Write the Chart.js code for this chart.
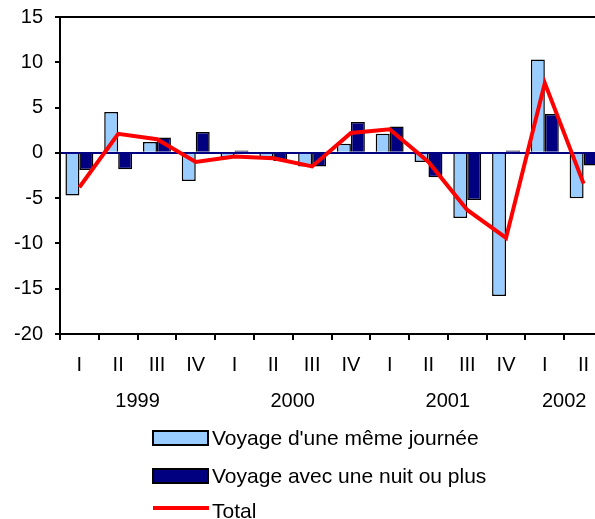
<!DOCTYPE html>
<html>
<head>
<meta charset="utf-8">
<script src="https://cdn.jsdelivr.net/npm/chart.js@4/dist/chart.umd.min.js"></script>
<style>
  html, body { margin: 0; padding: 0; background: #fff; overflow: hidden; }
  #wrap { width: 610px; height: 519px; }
</style>
</head>
<body>
<div id="wrap"><canvas id="chart" width="610" height="519"></canvas></div>
<script>
// quarterly values
const quarters = ["I", "II", "III", "IV", "I", "II", "III", "IV", "I", "II", "III", "IV", "I", "II"];
const years = ["1999", "2000", "2001", "2002"];
const yearFirst = [0, 4, 8, 12];
const yearLast = [3, 7, 11, 13];

const sameDay = [-4.7, 4.5, 1.2, -3.1, -0.5, -0.5, -1.5, 1.0, 2.1, -1.0, -7.2, -15.8, 10.3, -5.0];
const overnight = [-1.9, -1.8, 1.7, 2.3, 0.25, -0.9, -1.5, 3.4, 2.9, -2.7, -5.2, 0.25, 4.3, -1.4];
const total = [-3.8, 2.1, 1.5, -1.0, -0.4, -0.6, -1.5, 2.2, 2.6, -1.0, -6.3, -9.4, 7.7, -3.4];

const yTicks = [15, 10, 5, 0, -5, -10, -15, -20];

const FONT = "'Liberation Sans', Arial, sans-serif";
const LIGHT = "#99CCFF";
const NAVY = "#000080";
const RED = "#FF0000";

const legendItems = [
  { label: "Voyage d'une même journée", kind: "box", color: LIGHT },
  { label: "Voyage avec une nuit ou plus", kind: "box", color: NAVY },
  { label: "Total", kind: "line", color: RED },
];

// frame, year labels and the legend under the axis
const extras = {
  id: "extras",
  afterDraw(chart) {
    const ctx = chart.ctx;
    const a = chart.chartArea;
    const x = chart.scales.x;
    ctx.save();
    ctx.strokeStyle = "#000";
    ctx.lineWidth = 2;
    ctx.strokeRect(a.left, a.top, a.right - a.left, a.bottom - a.top);

    ctx.fillStyle = "#000";
    ctx.font = "20px " + FONT;
    ctx.textAlign = "center";
    ctx.textBaseline = "middle";
    years.forEach((y, i) => {
      const cx = (x.getPixelForValue(yearFirst[i]) + x.getPixelForValue(yearLast[i])) / 2;
      ctx.fillText(y, cx, 401);
    });

    const rows = [445, 483, 518];
    ctx.font = "21px " + FONT;
    ctx.textAlign = "left";
    ctx.textBaseline = "alphabetic";
    legendItems.forEach((it, i) => {
      const base = rows[i];
      if (it.kind === "box") {
        ctx.fillStyle = it.color;
        ctx.fillRect(153, base - 14, 55, 14);
        ctx.lineWidth = 2;
        ctx.strokeStyle = "#000";
        ctx.strokeRect(153, base - 14, 55, 14);
      } else {
        ctx.strokeStyle = it.color;
        ctx.lineWidth = 4;
        ctx.beginPath();
        ctx.moveTo(153, base - 10);
        ctx.lineTo(209, base - 10);
        ctx.stroke();
      }
      ctx.fillStyle = "#000";
      ctx.fillText(it.label, 212, base);
    });
    ctx.restore();
  },
};

new Chart(document.getElementById("chart").getContext("2d"), {
  data: {
    labels: quarters,
    datasets: [
      {
        type: "line",
        label: "Total",
        data: total,
        borderColor: RED,
        borderWidth: 4,
        pointRadius: 0,
        tension: 0,
        order: 0,
      },
      {
        type: "bar",
        label: "Voyage d'une même journée",
        data: sameDay,
        backgroundColor: LIGHT,
        borderColor: "#000",
        borderWidth: 1.5,
        barPercentage: 1,
        categoryPercentage: 0.72,
        order: 1,
      },
      {
        type: "bar",
        label: "Voyage avec une nuit ou plus",
        data: overnight,
        backgroundColor: NAVY,
        borderColor: "#000",
        borderWidth: 1.5,
        barPercentage: 1,
        categoryPercentage: 0.72,
        order: 1,
      },
    ],
  },
  options: {
    responsive: false,
    animation: false,
    layout: { padding: { top: 17, right: 7, left: 0, bottom: 0 } },
    plugins: { legend: { display: false }, tooltip: { enabled: false } },
    scales: {
      x: {
        offset: true,
        grid: { offset: true, drawOnChartArea: false, color: "#000", lineWidth: 2, tickLength: 6 },
        border: { color: "#000", width: 2 },
        ticks: { color: "#000", font: { family: FONT, size: 20 }, padding: 13, maxRotation: 0, autoSkip: false },
        afterFit: (s) => { s.height = 185; s.paddingLeft = 0; s.paddingRight = 0; },
      },
      y: {
        min: -20,
        max: 15,
        afterBuildTicks: (s) => { s.ticks = yTicks.map((v) => ({ value: v })); },
        grid: {
          color: (c) => (c.tick && c.tick.value === 0 ? NAVY : "rgba(0,0,0,0)"),
          tickColor: "#000",
          lineWidth: 2,
          tickLength: 5,
        },
        border: { color: "#000", width: 2 },
        ticks: { color: "#000", font: { family: FONT, size: 20 }, padding: 12 },
        afterFit: (s) => { s.width = 60; s.paddingTop = 0; s.paddingBottom = 0; },
      },
    },
  },
  plugins: [extras],
});
</script>
</body>
</html>
